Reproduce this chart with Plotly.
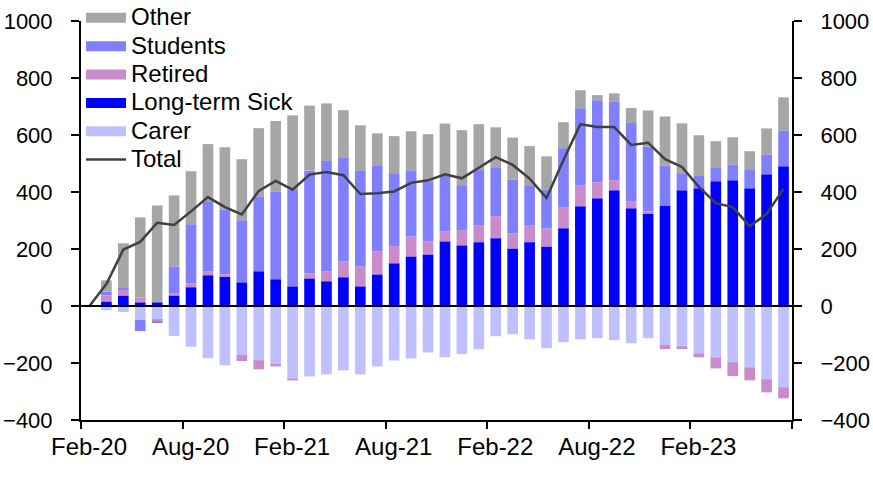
import plotly.graph_objects as go

# ---------------- data ----------------
months = ["Feb-20", "Mar-20", "Apr-20", "May-20", "Jun-20", "Jul-20",
          "Aug-20", "Sep-20", "Oct-20", "Nov-20", "Dec-20", "Jan-21",
          "Feb-21", "Mar-21", "Apr-21", "May-21", "Jun-21", "Jul-21",
          "Aug-21", "Sep-21", "Oct-21", "Nov-21", "Dec-21", "Jan-22",
          "Feb-22", "Mar-22", "Apr-22", "May-22", "Jun-22", "Jul-22",
          "Aug-22", "Sep-22", "Oct-22", "Nov-22", "Dec-22", "Jan-23",
          "Feb-23", "Mar-23", "Apr-23", "May-23", "Jun-23", "Jul-23"]

long_term_sick = [0, 16, 37, 13, 13, 37, 66, 108, 104, 83, 122, 94,
                  69, 97, 87, 101, 69, 111, 150, 174, 181, 227, 213, 224,
                  238, 202, 224, 209, 273, 350, 378, 406, 343, 325, 353, 406,
                  413, 438, 441, 413, 462, 490]

retired = [0, 21, 21, 17, -4, 7, 14, 14, 7, -21, -32, -7,
           -7, 17, 35, 56, 70, 81, 60, 70, 46, 35, 53, 60,
           77, 53, 60, 63, 74, 74, 56, 35, 25, 7, -14, -10,
           -14, -39, -49, -46, -46, -39]

students = [0, 14, 5, -39, -4, 95, 207, 246, 228, 218, 263, 309,
            338, 361, 389, 365, 337, 302, 256, 232, 211, 196, 158, 193,
            172, 189, 140, 137, 207, 270, 288, 277, 274, 228, 140, 60,
            46, 49, 56, 67, 70, 126]

other = [0, 39, 157, 281, 340, 249, 186, 200, 218, 214, 239, 246,
         262, 228, 200, 165, 158, 112, 130, 137, 165, 182, 193, 161,
         140, 147, 137, 116, 91, 63, 18, 28, 53, 126, 172, 175,
         140, 91, 95, 63, 91, 116]

carer = [0, -15, -21, -49, -49, -105, -143, -183, -208, -172, -190, -205,
         -254, -247, -240, -226, -240, -212, -191, -184, -163, -180, -169, -152,
         -106, -99, -117, -148, -127, -117, -113, -120, -131, -113, -137, -141,
         -166, -180, -197, -215, -257, -285]

total = [0, 77, 198, 225, 292, 284, 332, 382, 347, 321, 404, 439,
         408, 461, 470, 459, 393, 396, 402, 432, 441, 462, 448, 484,
         522, 495, 447, 379, 512, 638, 628, 628, 565, 573, 515, 488,
         418, 361, 347, 280, 323, 411]

y_ticks = [-400, -200, 0, 200, 400, 600, 800, 1000]
x_tick_labels = months[::6]

# ---------------- styling ----------------
FONT = "Liberation Sans, Arial, sans-serif"
colors = {
    "Other": "#A6A6A6",
    "Students": "#8080FF",
    "Retired": "#C98BC9",
    "Long-term Sick": "#0000FF",
    "Carer": "#C0C0FF",
}
legend_rank = {"Other": 1, "Students": 2, "Retired": 3,
               "Long-term Sick": 4, "Carer": 5, "Total": 6}

fig = go.Figure()

# bar order: Carer first so negatives stack Carer nearest zero
series = [("Carer", carer), ("Long-term Sick", long_term_sick),
          ("Retired", retired), ("Students", students), ("Other", other)]
for name, vals in series:
    fig.add_trace(go.Bar(
        x=months, y=vals, name=name, showlegend=False,
        marker=dict(color=colors[name], line=dict(width=0)),
    ))

# legend entries (wide rectangles like the reference)
for name, _ in series:
    fig.add_trace(go.Scatter(
        x=[None], y=[None], mode="lines",
        line=dict(color=colors[name], width=12),
        name='<span style="font-size:24px">%s</span>' % name,
        legendrank=legend_rank[name], hoverinfo="skip",
    ))

fig.add_trace(go.Scatter(
    x=months, y=total, mode="lines", yaxis="y2",
    line=dict(color="#404040", width=2.5),
    name='<span style="font-size:24px">Total</span>',
    legendrank=legend_rank["Total"],
))

n = len(months)
bound_vals = [i - 0.5 for i in range(0, n, 6)] + [n - 0.5]
bound_text = x_tick_labels + [""]

yax = dict(
    range=[-400, 1000], tickmode="array", tickvals=y_ticks,
    ticks="outside", ticklen=8, tickwidth=2, tickcolor="black",
    showline=True, linewidth=2, linecolor="black",
    showgrid=False, tickfont=dict(family=FONT, size=22, color="black"),
    ticklabelstandoff=14, fixedrange=True,
)

fig.update_layout(
    width=873, height=477,
    margin=dict(l=81, r=81, t=21, b=57, autoexpand=False),
    paper_bgcolor="white", plot_bgcolor="white",
    barmode="relative", bargap=0.37,
    font=dict(family=FONT, color="black"),
    xaxis=dict(
        type="category", range=[-0.5, n - 0.5],
        tickmode="array", tickvals=bound_vals, ticktext=bound_text,
        ticks="outside", ticklen=7, tickwidth=2, tickcolor="black",
        showline=True, linewidth=2, linecolor="black",
        showgrid=False, zeroline=False,
        tickfont=dict(family=FONT, size=24, color="black"),
        ticklabelshift=8, ticklabelstandoff=-3,
    ),
    yaxis=dict(**yax, zeroline=True, zerolinecolor="black", zerolinewidth=2,
               zerolinelayer="above traces"),
    yaxis2=dict(**yax, overlaying="y", side="right", zeroline=False),
    legend=dict(
        x=0.0, xanchor="left", y=1.056, yanchor="top",
        bgcolor="rgba(0,0,0,0)", borderwidth=0,
        font=dict(family=FONT, size=19.5, color="black"),
        itemwidth=40, tracegroupgap=0,
    ),
    showlegend=True,
)

fig.write_html(
    "out.html",
    config={"displayModeBar": False},
    post_script="document.body.style.margin='0';document.body.style.overflow='hidden';",
)
